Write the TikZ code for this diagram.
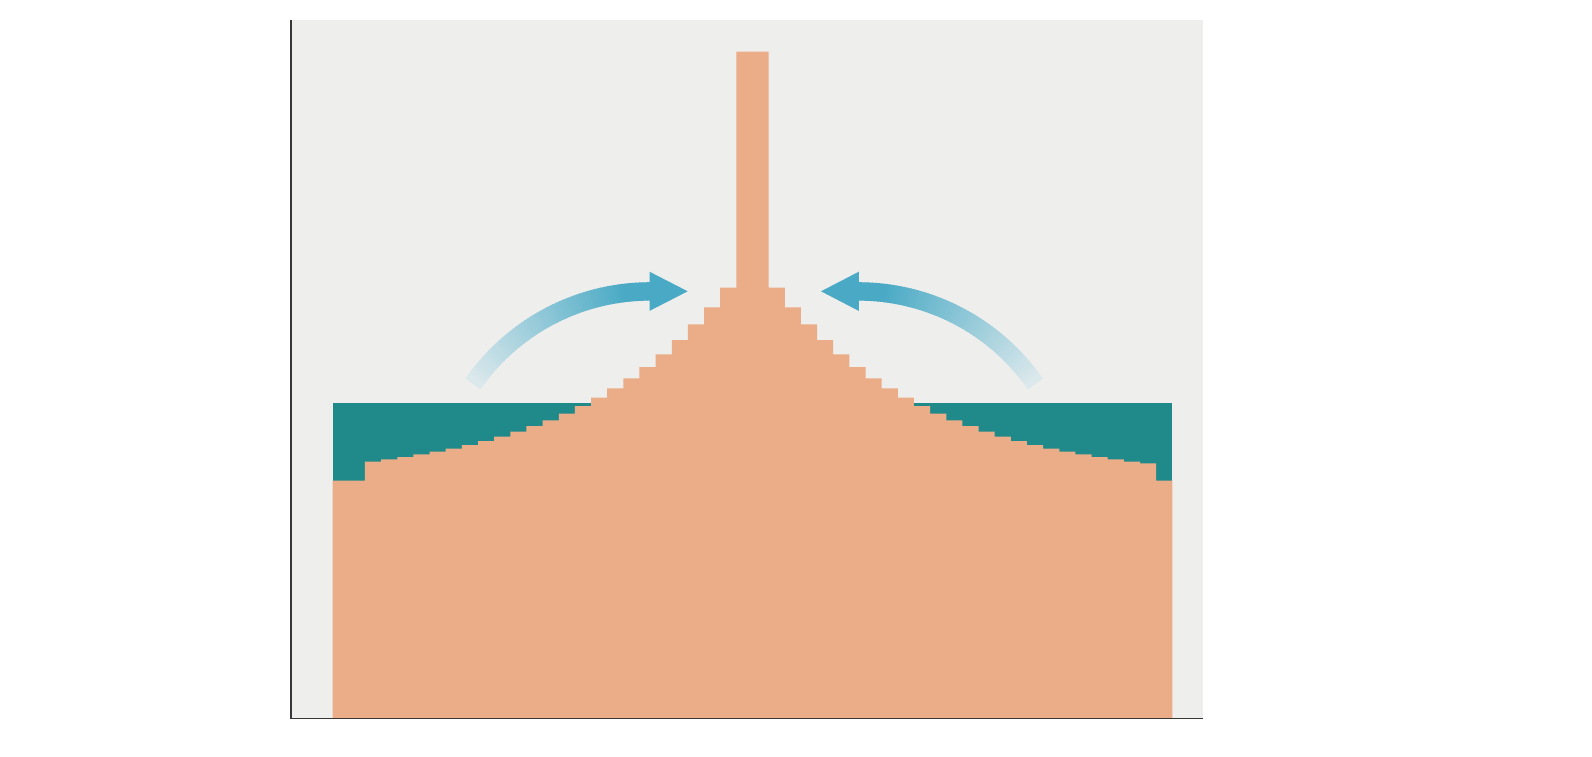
\documentclass[tikz,border=0pt]{standalone}
\usepackage{tikz}
\definecolor{bgc}{RGB}{238,238,236}
\definecolor{orng}{RGB}{235,173,135}
\definecolor{tealc}{RGB}{31,138,137}
\definecolor{arrowblue}{RGB}{74,170,197}
\definecolor{fadeend}{RGB}{228,236,238}
\definecolor{axisc}{RGB}{55,55,55}
\tikzset{
  barfill/.style={fill=orng},
  tealfill/.style={fill=tealc},
  axisline/.style={draw=axisc,line width=1.8pt},
  headfill/.style={fill=arrowblue}
}
\begin{document}
\begin{tikzpicture}[x=1pt,y=-1pt]
\useasboundingbox (0,0) rectangle (1592,756);
\fill[white] (0,0) rectangle (1592,756);
% plot background
\fill[bgc] (292,20) rectangle (1203,718.5);
% teal band
\fill[tealfill] (332.7,402.7) rectangle (1172.3,718.5);
% histogram
\def\xo{332.7}
\def\bw{16.146}
\fill[barfill] (\xo,718.5)
  \foreach \h [count=\i from 0] in {480.7,480.7,461.7,459.3,457,454.3,451.7,448.7,445,441,436.7,431.7,426,420.3,413.7,406,397.7,388.3,378.3,367,354.3,340,324.3,307.3,287.7,51.7,51.7,287.7,307.3,324.3,340,354.3,367,378.3,388.3,397.7,406,413.7,420.3,426,431.7,436.7,441,445,448.7,451.7,454.3,457,459.3,461.7,463.3,480.7}
  { -- ({\xo+\i*\bw},\h) -- ({\xo+(\i+1)*\bw},\h) }
  -- (1172.3,718.5) -- cycle;
% left arrow shaft (fading)
\foreach \i in {0,...,59} {
  \pgfmathsetmacro\aa{145.2-\i*55.2/60}
  \pgfmathsetmacro\ab{\aa-55.2/60-0.25}
  \pgfmathtruncatemacro\t{min(100,5+95*\i/52)}
  \draw[line width=18.4pt,draw=arrowblue!\t!fadeend]
    ({650+215.6*cos(\aa)},{507-215.6*sin(\aa)}) -- ({650+215.6*cos(\ab)},{507-215.6*sin(\ab)});
}
\fill[headfill] (649.5,271.7) -- (687.7,291.3) -- (649.5,310.9) -- cycle;
% right arrow shaft (fading)
\foreach \i in {0,...,59} {
  \pgfmathsetmacro\aa{34.8+\i*55.2/60}
  \pgfmathsetmacro\ab{\aa+55.2/60+0.25}
  \pgfmathtruncatemacro\t{min(100,5+95*\i/52)}
  \draw[line width=18.4pt,draw=arrowblue!\t!fadeend]
    ({858.3+215.6*cos(\aa)},{507-215.6*sin(\aa)}) -- ({858.3+215.6*cos(\ab)},{507-215.6*sin(\ab)});
}
\fill[headfill] (858.8,271.7) -- (821,291.3) -- (858.8,310.9) -- cycle;
% axes
\draw[axisline] (291.3,19.5) -- (291.3,718.4) -- (1203,718.4);
\end{tikzpicture}
\end{document}
